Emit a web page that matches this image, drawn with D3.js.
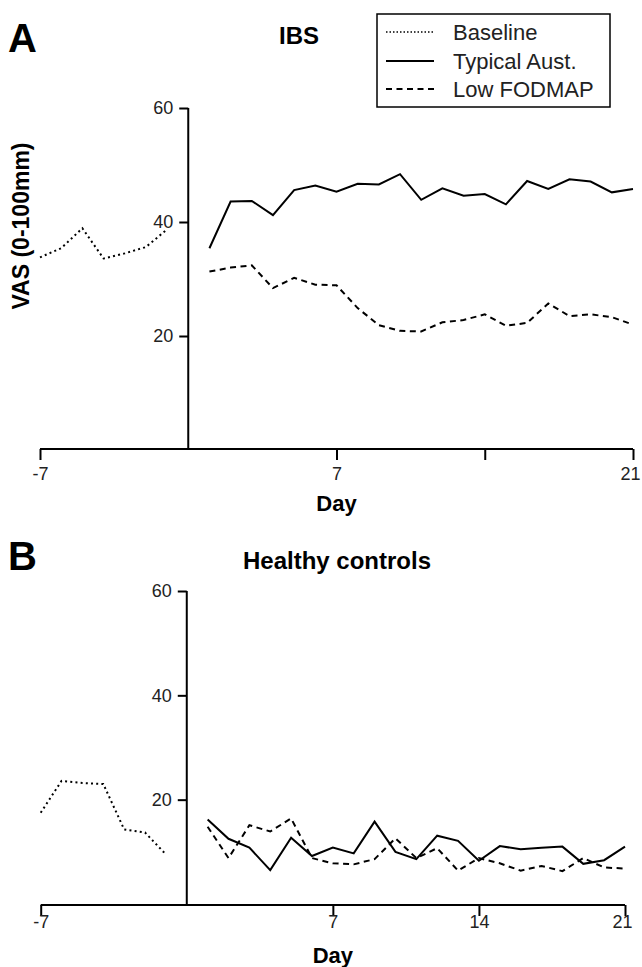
<!DOCTYPE html>
<html><head><meta charset="utf-8">
<script src="https://cdn.jsdelivr.net/npm/d3@7"></script>
<style>body{margin:0;background:#fff}svg{display:block}text{font-family:"Liberation Sans",Arial,Helvetica,sans-serif}</style>
</head><body>
<svg id="c" width="642" height="967"></svg>
<script>
const baselineDays = [-7,-6,-5,-4,-3,-2,-1];
const dietDays = d3.range(1,22);
const ibsBaseline = [33.8,35.4,38.9,33.6,34.5,35.6,38.7];
const ibsTypical = [35.4,43.6,43.7,41.2,45.6,46.4,45.3,46.7,46.6,48.4,43.9,45.9,44.6,44.9,43.1,47.2,45.8,47.5,47.1,45.2,45.8];
const ibsLowFodmap = [31.3,32.0,32.4,28.4,30.2,29.0,28.9,24.9,21.9,20.9,20.8,22.4,22.8,23.8,21.8,22.3,25.7,23.5,23.8,23.3,22.0];
const hcBaseline = [17.5,23.6,23.2,23.0,14.3,13.7,9.5];
const hcTypical = [16.2,12.5,10.8,6.5,12.7,9.2,10.8,9.7,15.8,10.0,8.6,13.1,12.1,8.3,11.1,10.5,10.8,11.0,7.7,8.4,11.0];
const hcLowFodmap = [14.8,8.8,15.1,13.9,16.4,8.8,7.8,7.6,8.6,12.6,8.8,10.7,6.4,8.8,7.8,6.4,7.3,6.3,8.8,7.0,6.8];
const yTicks = [20,40,60];
const xTicksA = [-7,7,14,21];
const xLabelsA = ["-7","7","","21"];
const xTicksB = [-7,7,14,21];
const xLabelsB = ["-7","7","14","21"];
const legendLabels = ["Baseline","Typical Aust.","Low FODMAP"];

const svg = d3.select("#c");
const styles = {base:"2,3.2", typ:null, low:"6,4.5"};

function panel(cfg){
  const x = d3.scaleLinear().domain([-7,21]).range(cfg.xr);
  const y = d3.scaleLinear().domain([0,60]).range(cfg.yr);
  const g = svg.append("g");
  const xa = d3.axisBottom(x).tickValues(cfg.xt).tickFormat((d,i)=>cfg.xl[i]).tickSize(11).tickSizeOuter(0);
  const gx = g.append("g").attr("transform",`translate(0,${cfg.xaxisY})`).call(xa);
  gx.select(".domain").attr("stroke","#000").attr("stroke-width",2).attr("d",`M${x(-7)},0H${x(21)}`);
  gx.selectAll(".tick line").attr("stroke-width",2);
  gx.selectAll(".tick text").attr("font-size",18).attr("y",cfg.labY).attr("fill","#222")
    .attr("dx",d=>d===21?-3:0);
  const ya = d3.axisLeft(y).tickValues(yTicks).tickSize(9).tickSizeOuter(0);
  const gy = g.append("g").attr("transform",`translate(${x(0)},0)`).call(ya);
  gy.select(".domain").attr("stroke-width",2).attr("d",`M0,${y(60)}V${cfg.xaxisY}`);
  gy.selectAll(".tick line").attr("stroke-width",2);
  gy.selectAll(".tick text").attr("font-size",18).attr("x",-15).attr("fill","#222");
  const line = d3.line().x(d=>x(d[0])).y(d=>y(d[1]));
  const series = [
    {days:baselineDays, vals:cfg.base, dash:styles.base},
    {days:dietDays, vals:cfg.typ, dash:styles.typ},
    {days:dietDays, vals:cfg.low, dash:styles.low}
  ];
  series.forEach(s=>{
    g.append("path").datum(s.days.map((d,i)=>[d,s.vals[i]]))
      .attr("d",line).attr("fill","none").attr("stroke","#000")
      .attr("stroke-width",2).attr("stroke-linejoin","miter")
      .attr("stroke-dasharray",s.dash);
  });
  g.append("text").attr("x",cfg.titleX).attr("y",cfg.titleY).attr("text-anchor","middle")
    .attr("font-size",24).attr("font-weight","bold").text(cfg.title);
  g.append("text").attr("x",8).attr("y",cfg.letterY).attr("font-size",40).attr("font-weight","bold").text(cfg.letter);
  g.append("text").attr("x",x(7)).attr("y",cfg.dayY).attr("text-anchor","middle")
    .attr("font-size",22).attr("font-weight","bold").text("Day");
  return {x,y};
}

panel({xr:[40,633], yr:[450,108], xaxisY:449, labY:18, xt:xTicksA, xl:xLabelsA,
  base:ibsBaseline, typ:ibsTypical, low:ibsLowFodmap, title:"IBS", titleX:299, titleY:44,
  letter:"A", letterY:52, dayY:511});
panel({xr:[40.7,625], yr:[904,591], xaxisY:905, labY:10, xt:xTicksB, xl:xLabelsB,
  base:hcBaseline, typ:hcTypical, low:hcLowFodmap, title:"Healthy controls", titleX:337, titleY:569,
  letter:"B", letterY:570, dayY:963});

svg.append("text").attr("transform","translate(29,226) rotate(-90)").attr("text-anchor","middle")
  .attr("font-size",23).attr("font-weight","bold").text("VAS (0-100mm)");

const lg = svg.append("g");
lg.append("rect").attr("x",377).attr("y",14).attr("width",233).attr("height",93)
  .attr("fill","#fff").attr("stroke","#000").attr("stroke-width",1.5);
const legDash=["1.5,2",styles.typ,styles.low];
const legY=[32,61,89];
legendLabels.forEach((t,i)=>{
  lg.append("line").attr("x1",386).attr("x2",434).attr("y1",legY[i]).attr("y2",legY[i])
    .attr("stroke","#000").attr("stroke-width",i===0?1.5:1.8).attr("stroke-dasharray",legDash[i]);
  lg.append("text").attr("x",453).attr("y",legY[i]).attr("dy","0.35em").attr("font-size",22).attr("fill","#222").text(t);
});
</script>
</body></html>
